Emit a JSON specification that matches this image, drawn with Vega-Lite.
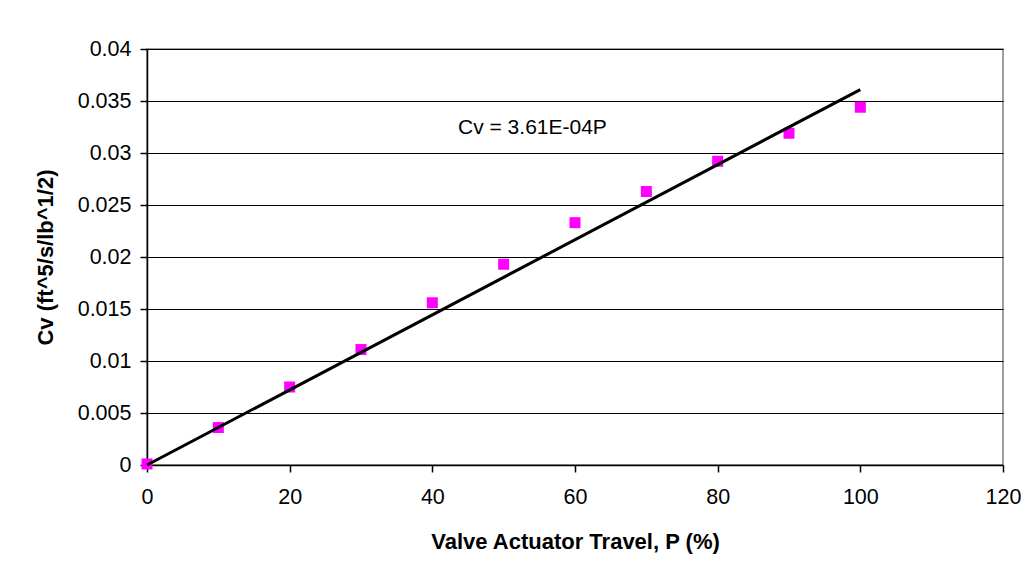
{
  "$schema": "https://vega.github.io/schema/vega-lite/v6.json",
  "autosize": {"type": "none"},
  "padding": {"left": 147, "top": 49, "right": 31, "bottom": 114},
  "width": 856,
  "height": 416,
  "background": "white",
  "config": {
    "font": "Liberation Sans",
    "view": {"stroke": "#808080", "strokeWidth": 1.5},
    "axis": {
      "labelFont": "Liberation Sans",
      "labelFontSize": 21.5,
      "labelColor": "black",
      "labelFlush": false,
      "titleFont": "Liberation Sans",
      "titleFontSize": 22,
      "titleFontWeight": "bold",
      "titleColor": "black",
      "domainColor": "black",
      "domainWidth": 1.5,
      "tickColor": "black",
      "tickWidth": 1.5,
      "tickSize": 7
    }
  },
  "datasets": {
    "measured": [
      {"P": 0, "Cv": 0.0001},
      {"P": 10, "Cv": 0.0036},
      {"P": 20, "Cv": 0.0075},
      {"P": 30, "Cv": 0.0111},
      {"P": 40, "Cv": 0.0156},
      {"P": 50, "Cv": 0.0193},
      {"P": 60, "Cv": 0.0233},
      {"P": 70, "Cv": 0.0263},
      {"P": 80, "Cv": 0.0292},
      {"P": 90, "Cv": 0.0319},
      {"P": 100, "Cv": 0.0344}
    ],
    "fit": [
      {"P": 0, "Cv": 0},
      {"P": 100, "Cv": 0.0361}
    ],
    "equation": [
      {"P": 43.6, "Cv": 0.0324, "label": "Cv = 3.61E-04P"}
    ]
  },
  "layer": [
    {
      "data": {"name": "measured"},
      "mark": {"type": "square", "size": 121, "color": "#FF00FF", "opacity": 1},
      "encoding": {
        "x": {
          "field": "P",
          "type": "quantitative",
          "scale": {"domain": [0, 120], "nice": false, "zero": true},
          "axis": {
            "title": "Valve Actuator Travel, P (%)",
            "values": [0, 20, 40, 60, 80, 100, 120],
            "grid": false,
            "labelPadding": 14,
            "titlePadding": 24
          }
        },
        "y": {
          "field": "Cv",
          "type": "quantitative",
          "scale": {"domain": [0, 0.04], "nice": false},
          "axis": {
            "title": "Cv (ft^5/s/lb^1/2)",
            "values": [0, 0.005, 0.01, 0.015, 0.02, 0.025, 0.03, 0.035, 0.04],
            "format": "~g",
            "grid": true,
            "gridColor": "black",
            "gridWidth": 1.2,
            "gridOpacity": 1,
            "labelPadding": 9,
            "titlePadding": 20
          }
        }
      }
    },
    {
      "data": {"name": "fit"},
      "mark": {"type": "line", "color": "black", "strokeWidth": 3},
      "encoding": {
        "x": {"field": "P", "type": "quantitative"},
        "y": {"field": "Cv", "type": "quantitative"}
      }
    },
    {
      "data": {"name": "equation"},
      "mark": {"type": "text", "align": "left", "baseline": "middle", "fontSize": 21, "color": "black", "font": "Liberation Sans"},
      "encoding": {
        "x": {"field": "P", "type": "quantitative"},
        "y": {"field": "Cv", "type": "quantitative"},
        "text": {"field": "label"}
      }
    }
  ]
}
